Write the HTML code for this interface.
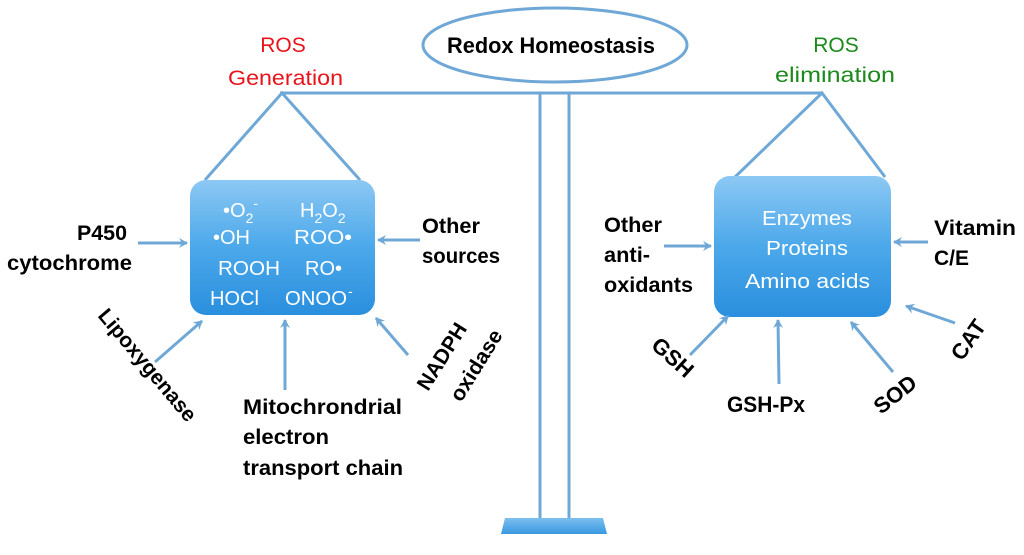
<!DOCTYPE html>
<html><head><meta charset="utf-8"><style>
html,body{margin:0;padding:0;background:#fff;}
svg{display:block;}
text{font-family:"Liberation Sans",Arial,sans-serif;}
.b{font-weight:bold;font-size:21px;fill:#000;}
.w{font-size:20px;fill:#fff;}
</style></head><body>
<svg width="1024" height="555" viewBox="0 0 1024 555" xmlns="http://www.w3.org/2000/svg">
<defs>
<linearGradient id="g" x1="0" y1="0" x2="0" y2="1">
<stop offset="0" stop-color="#8cc8f4"/><stop offset="0.5" stop-color="#4ba8ea"/><stop offset="1" stop-color="#2a8fde"/>
</linearGradient>
<linearGradient id="bg" x1="0" y1="0" x2="0" y2="1">
<stop offset="0" stop-color="#7cbff0"/><stop offset="1" stop-color="#3a98e0"/>
</linearGradient>
<marker id="a" markerWidth="10" markerHeight="10" refX="8" refY="5" orient="auto" markerUnits="userSpaceOnUse">
<path d="M0,0 L9,5 L0,10 L3,5 Z" fill="#6fa8d6"/>
</marker>
</defs>
<g stroke="#6fa8d6" stroke-width="3" fill="none">
<line x1="280" y1="93" x2="822" y2="93"/>
<line x1="540" y1="93" x2="540" y2="518"/>
<line x1="569" y1="93" x2="569" y2="518"/>
<polyline points="205,180 282,93 360,180"/>
<polyline points="735,177 822,93 885,177"/>
<ellipse cx="555" cy="45" rx="132" ry="37" fill="#fff"/>
</g>
<path d="M505,518 L603,518 L607,534 L501,534 Z" fill="url(#bg)"/>
<rect x="190" y="180" width="185" height="135" rx="16" fill="url(#g)"/>
<rect x="714" y="176" width="177" height="141" rx="16" fill="url(#g)"/>
<g stroke="#6fa8d6" stroke-width="3" marker-end="url(#a)">
<line x1="138" y1="243" x2="187" y2="243"/>
<line x1="420" y1="240" x2="378" y2="240"/>
<line x1="155" y1="362" x2="202" y2="321"/>
<line x1="285" y1="390" x2="285" y2="320"/>
<line x1="408" y1="355" x2="376" y2="318"/>
<line x1="664" y1="246" x2="711" y2="246"/>
<line x1="928" y1="242" x2="894" y2="242"/>
<line x1="690" y1="355" x2="728" y2="316"/>
<line x1="779" y1="384" x2="778" y2="320"/>
<line x1="893" y1="372" x2="851" y2="322"/>
<line x1="955" y1="323" x2="906" y2="306"/>
</g>
<text x="447" y="53" font-weight="bold" font-size="22" textLength="208" lengthAdjust="spacingAndGlyphs">Redox Homeostasis</text>
<text x="283" y="52" text-anchor="middle" font-size="21" fill="#e8131b">ROS</text>
<text x="228" y="85" font-size="21" fill="#e8131b" textLength="115" lengthAdjust="spacingAndGlyphs">Generation</text>
<text x="836" y="52" text-anchor="middle" font-size="21" fill="#1a8a1a">ROS</text>
<text x="775" y="82" font-size="21" fill="#1a8a1a" textLength="120" lengthAdjust="spacingAndGlyphs">elimination</text>
<g class="w">
<text x="223" y="217">•O<tspan font-size="14" dy="6">2</tspan><tspan font-size="14" dy="-15">-</tspan></text>
<text x="300" y="217">H<tspan font-size="14" dy="6">2</tspan><tspan dy="-6">O</tspan><tspan font-size="14" dy="6">2</tspan></text>
<text x="213" y="244">•OH</text>
<text x="294" y="244" textLength="58" lengthAdjust="spacingAndGlyphs">ROO•</text>
<text x="218" y="275" textLength="62" lengthAdjust="spacingAndGlyphs">ROOH</text>
<text x="305" y="275">RO•</text>
<text x="210" y="305">HOCl</text>
<text x="285" y="305" textLength="62" lengthAdjust="spacingAndGlyphs">ONOO</text><text x="348" y="296" font-size="14" fill="#fff">-</text>
</g>
<g class="w" font-size="21">
<text x="762" y="225" textLength="90" lengthAdjust="spacingAndGlyphs">Enzymes</text>
<text x="766" y="255" textLength="82" lengthAdjust="spacingAndGlyphs">Proteins</text>
<text x="745" y="288" textLength="125" lengthAdjust="spacingAndGlyphs">Amino acids</text>
</g>
<g class="b">
<text x="77" y="240" textLength="50" lengthAdjust="spacingAndGlyphs">P450</text>
<text x="7" y="270" textLength="125" lengthAdjust="spacingAndGlyphs">cytochrome</text>
<text x="422" y="233" textLength="58" lengthAdjust="spacingAndGlyphs">Other</text>
<text x="422" y="263" textLength="78" lengthAdjust="spacingAndGlyphs">sources</text>
<text x="243" y="414" textLength="159" lengthAdjust="spacingAndGlyphs">Mitochrondrial</text>
<text x="243" y="444" textLength="86" lengthAdjust="spacingAndGlyphs">electron</text>
<text x="243" y="475" textLength="160" lengthAdjust="spacingAndGlyphs">transport chain</text>
<text transform="translate(97,316) rotate(50)" textLength="140" lengthAdjust="spacingAndGlyphs">Lipoxygenase</text>
<text transform="translate(428,392) rotate(-58)" textLength="75" lengthAdjust="spacingAndGlyphs">NADPH</text>
<text transform="translate(461,403) rotate(-58)" textLength="80" lengthAdjust="spacingAndGlyphs">oxidase</text>
<text x="604" y="232" textLength="58" lengthAdjust="spacingAndGlyphs">Other</text>
<text x="604" y="262" textLength="46" lengthAdjust="spacingAndGlyphs">anti-</text>
<text x="604" y="292" textLength="89" lengthAdjust="spacingAndGlyphs">oxidants</text>
<text x="934" y="235" textLength="82" lengthAdjust="spacingAndGlyphs">Vitamin</text>
<text x="934" y="265">C/E</text>
<text transform="translate(650,347) rotate(42)" font-size="22">GSH</text>
<text x="727" y="412" font-size="22" textLength="78" lengthAdjust="spacingAndGlyphs">GSH-Px</text>
<text transform="translate(881,415) rotate(-38)" font-size="22">SOD</text>
<text transform="translate(962,362) rotate(-55)" font-size="22">CAT</text>
</g>
</svg>
</body></html>
